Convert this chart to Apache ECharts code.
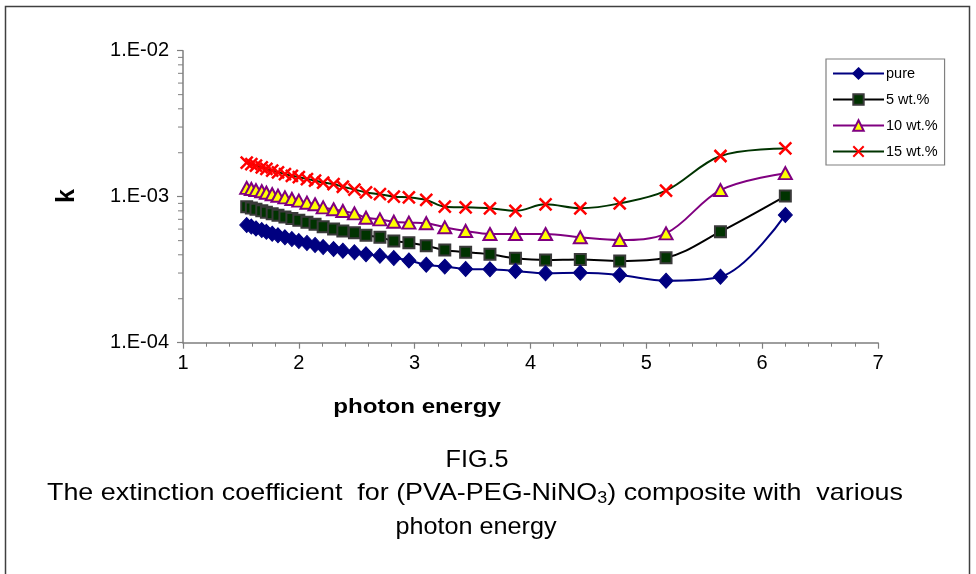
<!DOCTYPE html>
<html>
<head>
<meta charset="utf-8">
<script src="https://cdn.jsdelivr.net/npm/echarts@6/dist/echarts.min.js"></script>
<style>
html,body{margin:0;padding:0;background:#fff;}
#chart{width:976px;height:574px;}
</style>
</head>
<body>
<div id="chart"></div>
<script>
// photon energy (eV)
var energy = [1.55, 1.59, 1.63, 1.68, 1.72, 1.77, 1.82, 1.88, 1.94, 2.00, 2.07, 2.14, 2.21, 2.30, 2.38, 2.48, 2.58, 2.70, 2.82, 2.95, 3.10, 3.26, 3.44, 3.65, 3.87, 4.13, 4.43, 4.77, 5.17, 5.64, 6.20];
// extinction coefficient k
var kPure = [6.40e-4, 6.24e-4, 6.06e-4, 5.91e-4, 5.75e-4, 5.58e-4, 5.44e-4, 5.27e-4, 5.13e-4, 4.97e-4, 4.82e-4, 4.67e-4, 4.52e-4, 4.38e-4, 4.27e-4, 4.16e-4, 4.03e-4, 3.94e-4, 3.80e-4, 3.66e-4, 3.42e-4, 3.32e-4, 3.20e-4, 3.18e-4, 3.10e-4, 2.99e-4, 3.01e-4, 2.91e-4, 2.66e-4, 2.83e-4, 7.50e-4];
var k5 = [8.55e-4, 8.37e-4, 8.20e-4, 8.02e-4, 7.82e-4, 7.65e-4, 7.46e-4, 7.27e-4, 7.08e-4, 6.90e-4, 6.68e-4, 6.47e-4, 6.22e-4, 6.00e-4, 5.82e-4, 5.67e-4, 5.44e-4, 5.27e-4, 4.97e-4, 4.84e-4, 4.62e-4, 4.31e-4, 4.16e-4, 4.03e-4, 3.79e-4, 3.69e-4, 3.72e-4, 3.63e-4, 3.82e-4, 5.76e-4, 1.01e-3];
var k10 = [1.15e-3, 1.13e-3, 1.11e-3, 1.09e-3, 1.065e-3, 1.04e-3, 1.015e-3, 9.90e-4, 9.65e-4, 9.40e-4, 9.10e-4, 8.87e-4, 8.45e-4, 8.20e-4, 7.98e-4, 7.69e-4, 7.18e-4, 6.99e-4, 6.74e-4, 6.64e-4, 6.58e-4, 6.17e-4, 5.82e-4, 5.55e-4, 5.55e-4, 5.55e-4, 5.27e-4, 5.05e-4, 5.61e-4, 1.11e-3, 1.45e-3];
var k15 = [1.71e-3, 1.67e-3, 1.63e-3, 1.59e-3, 1.55e-3, 1.51e-3, 1.47e-3, 1.43e-3, 1.39e-3, 1.36e-3, 1.32e-3, 1.29e-3, 1.25e-3, 1.22e-3, 1.17e-3, 1.12e-3, 1.07e-3, 1.04e-3, 1.00e-3, 9.90e-4, 9.50e-4, 8.55e-4, 8.46e-4, 8.33e-4, 8.00e-4, 8.87e-4, 8.33e-4, 9.00e-4, 1.10e-3, 1.90e-3, 2.14e-3];
var seriesNames = ['pure', '5 wt.%', '10 wt.%', '15 wt.%'];
var yTickLabels = ['1.E-04', '1.E-03', '1.E-02'];
var yMinorTickValues = [2e-4, 3e-4, 4e-4, 5e-4, 6e-4, 7e-4, 8e-4, 9e-4, 2e-3, 3e-3, 4e-3, 5e-3, 6e-3, 7e-3, 8e-3, 9e-3];

function pairs(ys) { return energy.map(function (x, i) { return [x, ys[i]]; }); }

var FONT = '"Liberation Sans", Arial, sans-serif';
var AXIS = '#7f7f7f';
var crossPath = 'path://M0,0L10,10M10,0L0,10';

var chart = echarts.init(document.getElementById('chart'), null, {renderer: 'canvas'});
chart.setOption({
  animation: false,
  backgroundColor: '#ffffff',
  grid: {left: 183, right: 98, top: 50.7, bottom: 231.3, containLabel: false},
  xAxis: {
    type: 'value', min: 1, max: 7, interval: 1,
    axisLine: {show: true, onZero: false, lineStyle: {color: AXIS, width: 1.5}},
    axisTick: {show: true, inside: false, length: 6, lineStyle: {color: AXIS, width: 1.2}},
    minorTick: {show: true, splitNumber: 5, length: 4, lineStyle: {color: AXIS, width: 1}},
    splitLine: {show: false},
    axisLabel: {color: '#000', fontFamily: FONT, fontSize: 20, margin: 11}
  },
  yAxis: {
    type: 'log', logBase: 10, min: 1e-4, max: 1e-2,
    axisLine: {show: true, lineStyle: {color: AXIS, width: 1.5}},
    axisTick: {show: true, inside: false, length: 6, lineStyle: {color: AXIS, width: 1.2}},
    splitLine: {show: false},
    axisLabel: {
      color: '#000', fontFamily: FONT, fontSize: 20, margin: 14,
      formatter: function (v) { return yTickLabels[Math.round(Math.log10(v)) + 4]; }
    }
  },
  legend: {
    data: seriesNames,
    orient: 'vertical',
    left: 826, top: 59,
    itemWidth: 51, itemHeight: 13, itemGap: 11,
    padding: [7, 7, 6, 6],
    borderColor: '#808080', borderWidth: 1.2,
    textStyle: {fontFamily: FONT, fontSize: 14.5, color: '#000', padding: [0, 0, 0, -3]}
  },
  series: [
    {
      name: seriesNames[0], type: 'line', smooth: 0.35, data: pairs(kPure),
      symbol: 'diamond', symbolSize: [14, 15],
      lineStyle: {color: '#000080', width: 2},
      itemStyle: {color: '#000080', borderColor: '#000080', borderWidth: 1},
      z: 5
    },
    {
      name: seriesNames[1], type: 'line', smooth: 0.35, data: pairs(k5),
      symbol: 'rect', symbolSize: 11,
      lineStyle: {color: '#000000', width: 2},
      itemStyle: {color: '#003300', borderColor: '#3a3a3a', borderWidth: 2},
      z: 4
    },
    {
      name: seriesNames[2], type: 'line', smooth: 0.35, data: pairs(k10),
      symbol: 'triangle', symbolSize: [13, 12],
      lineStyle: {color: '#800080', width: 2},
      itemStyle: {color: '#ffff00', borderColor: '#800080', borderWidth: 2},
      z: 3
    },
    {
      name: seriesNames[3], type: 'line', smooth: 0.35, data: pairs(k15),
      symbol: crossPath, symbolSize: 12,
      lineStyle: {color: '#003300', width: 2},
      itemStyle: {color: 'rgba(0,0,0,0)', borderColor: '#ff0000', borderWidth: 2.5},
      z: 6
    },
    {
      name: 'yMinorTicks', type: 'custom', silent: true, clip: false,
      data: yMinorTickValues.map(function (v) { return [1, v]; }),
      renderItem: function (params, api) {
        var p = api.coord([api.value(0), api.value(1)]);
        return {type: 'line', shape: {x1: p[0] - 5, y1: p[1], x2: p[0], y2: p[1]},
                style: {stroke: AXIS, lineWidth: 1}};
      },
      z: 1
    }
  ],
  graphic: [
    {type: 'rect', shape: {x: 5.5, y: 6.5, width: 964, height: 600},
     style: {fill: 'none', stroke: '#404040', lineWidth: 1.5}, silent: true},
    {type: 'text', x: 67, y: 196, rotation: Math.PI / 2,
     style: {text: 'k', font: 'bold 25px ' + FONT, fill: '#000', textAlign: 'center', textVerticalAlign: 'middle'}},
    {type: 'text', x: 417, y: 407, scaleX: 1.15,
     style: {text: 'photon energy', font: 'bold 21px ' + FONT, fill: '#000', textAlign: 'center', textVerticalAlign: 'middle'}},
    {type: 'text', x: 477, y: 460, scaleX: 1.05,
     style: {text: 'FIG.5', font: '24px ' + FONT, fill: '#000', textAlign: 'center', textVerticalAlign: 'middle'}},
    {type: 'text', x: 475, y: 493, scaleX: 1.12,
     style: {
       text: 'The extinction coefficient  for (PVA-PEG-NiNO{sub|3}) composite with  various',
       font: '24px ' + FONT, fill: '#000', textAlign: 'center', textVerticalAlign: 'middle',
       rich: {sub: {fontSize: 16, fontFamily: FONT, padding: [12, 0, 0, 0], fill: '#000'}}
     }},
    {type: 'text', x: 476, y: 527, scaleX: 1.05,
     style: {text: 'photon energy', font: '24px ' + FONT, fill: '#000', textAlign: 'center', textVerticalAlign: 'middle'}}
  ]
});
</script>
</body>
</html>
